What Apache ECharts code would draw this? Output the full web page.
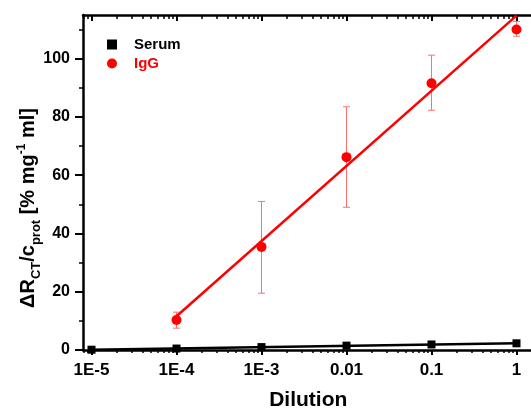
<!DOCTYPE html>
<html><head><meta charset="utf-8">
<script src="https://cdn.jsdelivr.net/npm/echarts@6/dist/echarts.min.js"></script>
<style>html,body{margin:0;padding:0;background:#fff}#c{width:531px;height:409px}</style>
</head><body><div id="c"></div>
<script>
// ---- data ----
const serumDilutions = [1e-5, 1e-4, 1e-3, 1e-2, 1e-1, 1];
const serumValues = [0.1, 0.5, 1.0, 1.5, 1.9, 2.3];
const iggDilutions = [1e-4, 1e-3, 1e-2, 1e-1, 1];
const iggValues = [10.3, 35.4, 66.2, 91.6, 110.0];
const iggErrLow = [7.5, 19.5, 49.0, 82.3, 107.7];
const iggErrHigh = [13.0, 51.0, 83.5, 101.2, 112.8];
const iggFitX = [1e-4, 1];
const iggFitY = [11.6, 114.8];
const serumFitX = [1e-5, 1];
const serumFitY = [0.1, 2.3];
const xTickValues = [1e-5, 1e-4, 1e-3, 1e-2, 1e-1, 1];
const xTickLabels = ['1E-5', '1E-4', '1E-3', '0.01', '0.1', '1'];
const yTickValues = [0, 20, 40, 60, 80, 100];
const yMinorValues = [10, 30, 50, 70, 90, 110];

const xMin = Math.pow(10, -5.1), xMax = Math.pow(10, 0.2);
const xMinorValues = [];
for (let e = -6; e <= 0; e++) for (let m = 2; m <= 9; m++) {
  const v = m * Math.pow(10, e);
  if (v >= xMin && v <= xMax) xMinorValues.push(v);
}

const FONT = '"Liberation Sans", Arial, sans-serif';
const zip = (a, b) => a.map((v, i) => [v, b[i]]);

const chart = echarts.init(document.getElementById('c'), null, {renderer: 'canvas'});
const baseX = (grid, pos, extra) => Object.assign({
  type: 'log', logBase: 10, min: xMin, max: xMax, position: pos, gridIndex: grid,
  splitLine: {show: false}, minorTick: {show: false}, minorSplitLine: {show: false},
  axisLine: {show: true, lineStyle: {color: '#000', width: 2.5}}
}, extra);
const gridBox = {left: 83, top: 15, right: -2.5, bottom: 59, containLabel: false, outerBoundsMode: 'none'};

chart.setOption({
  animation: false,
  grid: [Object.assign({}, gridBox), Object.assign({}, gridBox)],
  legend: {
    orient: 'vertical', left: 102, top: 32, itemGap: 4, itemWidth: 10, itemHeight: 10,
    textStyle: {fontFamily: FONT, fontWeight: 'bold', fontSize: 15, padding: [0, 0, 0, 12]},
    data: [
      {name: 'Serum', icon: 'rect', textStyle: {color: '#000'}},
      {name: 'IgG', icon: 'circle', textStyle: {color: '#ff0000'}}
    ]
  },
  xAxis: [
    baseX(0, 'bottom', {
      name: 'Dilution', nameLocation: 'middle', nameGap: 40,
      nameTextStyle: {fontFamily: FONT, fontWeight: 'bold', fontSize: 21, color: '#000'},
      axisTick: {show: true, inside: false, length: 5, lineStyle: {color: '#000', width: 2}, customValues: xTickValues},
      axisLabel: {show: true, color: '#000', fontFamily: FONT, fontWeight: 'bold', fontSize: 17, margin: 12,
        customValues: xTickValues,
        formatter: v => { const i = xTickValues.findIndex(t => Math.abs(Math.log10(t) - Math.log10(v)) < 1e-6); return i >= 0 ? xTickLabels[i] : ''; }}
    }),
    baseX(0, 'top', {
      axisTick: {show: true, inside: true, length: 6, lineStyle: {color: '#000', width: 2}, customValues: xTickValues},
      axisLabel: {show: false}
    }),
    baseX(1, 'bottom', {
      axisLine: {show: false},
      axisTick: {show: true, inside: false, length: 3, lineStyle: {color: '#000', width: 1.5}, customValues: xMinorValues},
      axisLabel: {show: false}
    }),
    baseX(1, 'top', {
      axisLine: {show: false},
      axisTick: {show: true, inside: true, length: 4, lineStyle: {color: '#000', width: 1.5}, customValues: xMinorValues},
      axisLabel: {show: false}
    })
  ],
  yAxis: [
    {
      type: 'value', min: 0, max: 115, position: 'left', gridIndex: 0,
      splitLine: {show: false},
      axisLine: {show: true, lineStyle: {color: '#000', width: 2.5}},
      axisTick: {show: true, length: 8, lineStyle: {color: '#000', width: 2}, customValues: yTickValues},
      axisLabel: {color: '#000', fontFamily: FONT, fontWeight: 'bold', fontSize: 16, margin: 13, customValues: yTickValues}
    },
    {
      type: 'value', min: 0, max: 115, position: 'left', gridIndex: 1,
      splitLine: {show: false},
      axisLine: {show: false},
      axisTick: {show: true, length: 4, lineStyle: {color: '#000', width: 1.5}, customValues: yMinorValues},
      axisLabel: {show: false}
    }
  ],
  graphic: [{
    type: 'text', x: 27, y: 208, rotation: Math.PI / 2,
    style: {
      text: '{b|ΔR}{s|CT}{b|/c}{s|prot}{b| [% mg}{u|-1}{b| ml]}',
      align: 'center', verticalAlign: 'middle',
      rich: {
        b: {fontFamily: FONT, fontWeight: 'bold', fontSize: 20, fill: '#000', color: '#000', verticalAlign: 'bottom', lineHeight: 22},
        s: {fontFamily: FONT, fontWeight: 'bold', fontSize: 13, fill: '#000', color: '#000', verticalAlign: 'bottom', lineHeight: 16, padding: [0, 0, -5, 0]},
        u: {fontFamily: FONT, fontWeight: 'bold', fontSize: 12, fill: '#000', color: '#000', verticalAlign: 'top', lineHeight: 16, padding: [0, 0, 6, 0]}
      }
    }
  }],
  series: [
    {
      name: 'IgG err', type: 'custom', xAxisIndex: 0, yAxisIndex: 0, z: 2,
      data: iggDilutions.map((d, i) => [d, iggErrLow[i], iggErrHigh[i]]),
      renderItem: (params, api) => {
        const lo = api.coord([api.value(0), api.value(1)]);
        const hi = api.coord([api.value(0), api.value(2)]);
        const w = 3.5;
        const st = {stroke: '#ff6f6f', lineWidth: 1};
        return {type: 'group', children: [
          {type: 'line', shape: {x1: lo[0], y1: lo[1], x2: hi[0], y2: hi[1]}, style: st},
          {type: 'line', shape: {x1: lo[0] - w, y1: lo[1], x2: lo[0] + w, y2: lo[1]}, style: st},
          {type: 'line', shape: {x1: hi[0] - w, y1: hi[1], x2: hi[0] + w, y2: hi[1]}, style: st}
        ]};
      }
    },
    {
      name: 'IgG fit', type: 'line', xAxisIndex: 0, yAxisIndex: 0, data: zip(iggFitX, iggFitY), symbol: 'none', z: 3,
      lineStyle: {color: '#ff0000', width: 2.5}, itemStyle: {color: '#ff0000'}
    },
    {
      name: 'Serum fit', type: 'line', xAxisIndex: 0, yAxisIndex: 0, data: zip(serumFitX, serumFitY), symbol: 'none', z: 3,
      lineStyle: {color: '#000', width: 2.5}, itemStyle: {color: '#000'}
    },
    {
      name: 'IgG', type: 'scatter', xAxisIndex: 0, yAxisIndex: 0, data: zip(iggDilutions, iggValues), symbol: 'circle', symbolSize: 10, z: 4,
      itemStyle: {color: '#ff0000', opacity: 1}
    },
    {
      name: 'Serum', type: 'scatter', xAxisIndex: 0, yAxisIndex: 0, data: zip(serumDilutions, serumValues), symbol: 'rect', symbolSize: 8, z: 4,
      itemStyle: {color: '#000', opacity: 1}
    }
  ]
});
</script></body></html>
